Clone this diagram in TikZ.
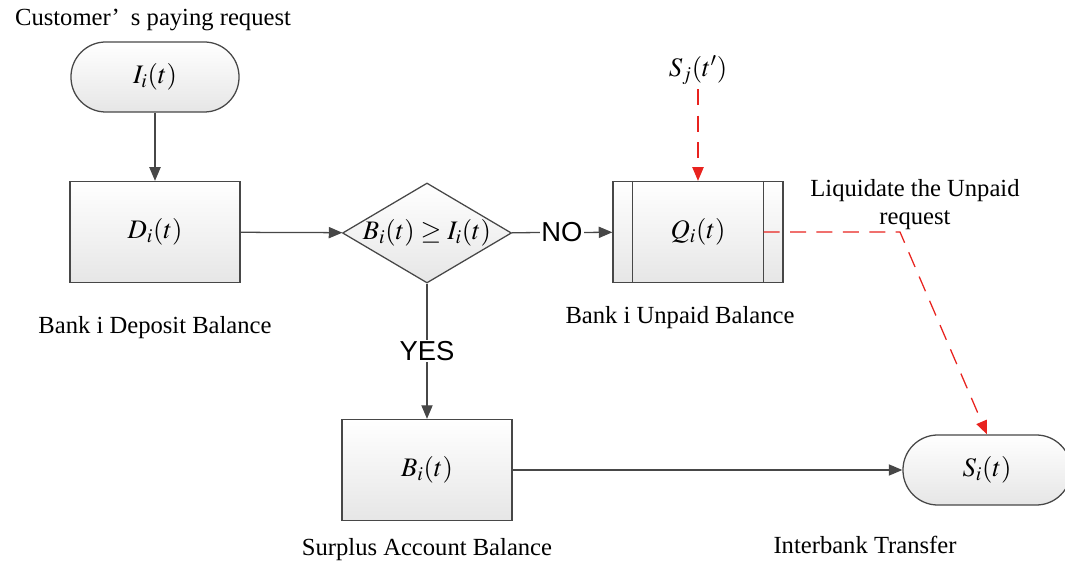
\documentclass[tikz,border=0pt]{standalone}
\usepackage{mathptmx}
\usepackage{fontspec}
\setmainfont{Liberation Serif}
\newfontfamily\arialfont{Liberation Sans}
\usepackage{tikz}
\usetikzlibrary{arrows.meta,
                calc,
                positioning,
                shapes.geometric}
\definecolor{lgrey}{HTML}{474747}
\definecolor{boxgrey}{HTML}{E6E6E6}
\definecolor{dred}{HTML}{E8231F}

\begin{document}
\begin{tikzpicture}[x=0.025cm, y=-0.025cm,
node distance = 4mm,
   BOX/.style = {draw=lgrey, line width=0.9pt, top color=white, bottom color=boxgrey,
                 minimum width=4.25cm, minimum height=2.525cm, inner sep=0pt,
                 font=\fontsize{19}{21}\selectfont},
  TERM/.style = {BOX, rounded corners=0.87cm,
                 minimum width=4.2cm, minimum height=1.75cm},
  DIAM/.style = {BOX, diamond, minimum width=4.225cm, minimum height=2.5cm},
   LBL/.style = {font=\fontsize{17.5}{20}\selectfont, inner sep=1pt},
   YN/.style  = {fill=white, inner sep=1pt, font=\arialfont\fontsize{19.5}{21}\selectfont},
   ARR/.style = {-{Triangle[length=3.4mm,width=2.8mm]}, line width=0.9pt, draw=lgrey},
   RED/.style = {ARR, draw=dred, dash pattern=on 4mm off 2.6mm}
                        ]
\useasboundingbox (0,0) rectangle (1065,563);
% left column
\node[TERM] (req) at (155,77)  {$I_i(t)$};
\node[LBL]  (reqlbl) at (153,20) {Customer’\hspace{0.45em}s paying request};
\node[BOX]  (dep) at (155,232) {$D_i(t)$};
\node[LBL]  (deplbl) at (155,328) {Bank i Deposit Balance};
% decision
\node[DIAM] (dec) at (427,233) {\makebox[0pt]{$B_i(t)\geq I_i(t)$}};
\node[BOX]  (sur) at (427,470) {$B_i(t)$};
\node[LBL]  (surlbl) at (427,550) {Surplus Account Balance};
% unpaid queue
\node[BOX]  (unp) at (698,232) {$Q_i(t)$};
\draw[lgrey, line width=0.9pt] ([xshift=5mm]unp.north west) -- ([xshift=5mm]unp.south west)
                               ([xshift=-5mm]unp.north east) -- ([xshift=-5mm]unp.south east);
\node[LBL]  (unplbl) at (680,318) {Bank i Unpaid Balance};
\node[font=\fontsize{19}{21}\selectfont] (sj) at (698,70) {$S_j(t')$};
\node[LBL, align=center] (liq) at (915,205) {Liquidate the Unpaid\\request};
% transfer
\node[TERM] (tra) at (987,470) {$S_i(t)$};
\node[LBL]  (tralbl) at (865,545) {Interbank Transfer};
% connectors
\draw[ARR] (req) -- (dep);
\draw[ARR] (dep) -- (dec);
\draw[ARR] (dec) -- node[YN] {NO} (unp);
\draw[ARR] (dec) -- node[YN] {YES} (sur);
\draw[ARR] (sur) -- (tra);
\draw[RED] (sj) -- (unp);
\coordinate (bend) at (900,232);
\draw[RED] ([xshift=-5mm]unp.east) -- (bend) -- (tra.north);
\end{tikzpicture}
\end{document}
